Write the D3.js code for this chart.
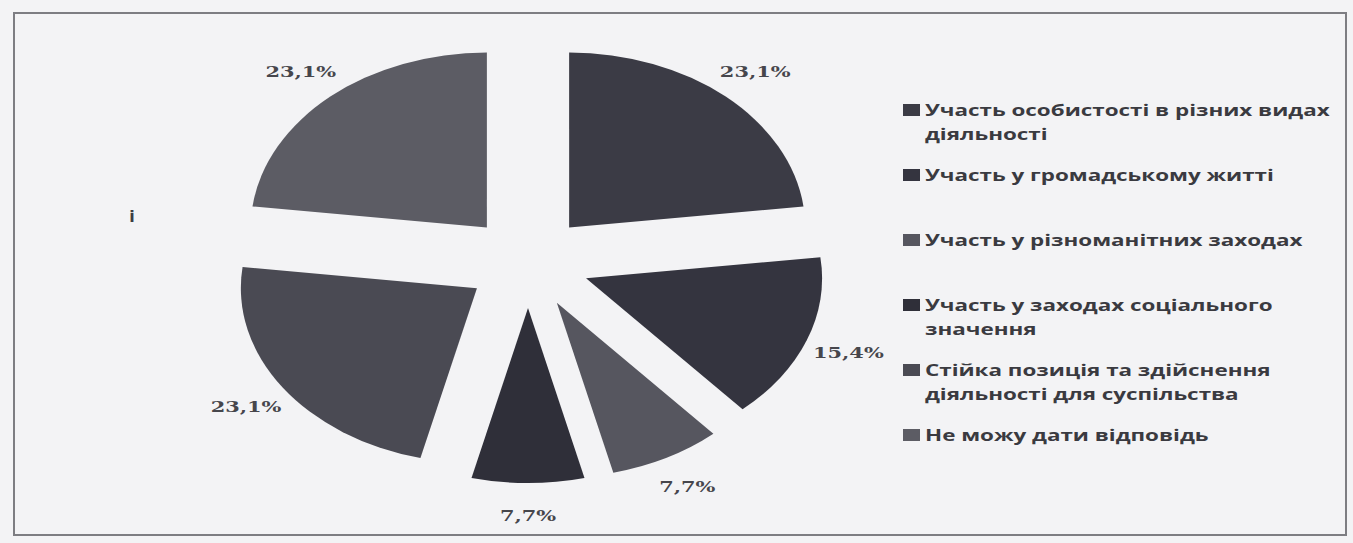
<!DOCTYPE html>
<meta charset="utf-8">
<script src="https://d3js.org/d3.v7.min.js"></script>
<style>
  body { margin: 0; background: #f3f3f5; }
</style>
<div id="chart"></div>
<script>

// data
var legendLines = [
  ["Участь особистості в різних видах", "діяльності"],
  ["Участь у громадському житті"],
  ["Участь у різноманітних заходах"],
  ["Участь у заходах соціального", "значення"],
  ["Стійка позиція та здійснення", "діяльності для суспільства"],
  ["Не можу дати відповідь"]
];
var values = [23.1, 15.4, 7.7, 7.7, 23.1, 23.1];
var colors = ["#3b3b45", "#34343f", "#56565f", "#2f2f39", "#4a4a53", "#5c5c64"];

var width = 1353, height = 543;
// the scan is stretched sideways, so the pie is drawn as a circle and widened
var stretch = 1.349;
var cx = 528, cy = 262, radius = 175, explode = 46, labelRadius = 254;

var uaFormat = d3.formatLocale({decimal: ",", thousands: " ", grouping: [3], currency: ["", ""]});
var fmt = function(v) { return uaFormat.format(".1f")(v) + "%"; };

var svg = d3.select("#chart")
  .append("svg")
    .attr("width", width)
    .attr("height", height);

// frame round the chart
svg.append("rect")
  .attr("x", 14)
  .attr("y", 13)
  .attr("width", 1332)
  .attr("height", 522)
  .attr("fill", "none")
  .attr("stroke", "#7d7d82")
  .attr("stroke-width", 2);

var pie = d3.pie().sort(null).value(function(d) { return d; });
var arcs = pie(values);
var arc = d3.arc().innerRadius(0).outerRadius(radius);

var pieG = svg.append("g")
  .attr("transform", "translate(" + cx + "," + cy + ") scale(" + stretch + ",1)");

pieG.selectAll("path.slice")
  .data(arcs)
  .enter()
  .append("path")
    .attr("class", "slice")
    .attr("d", arc)
    .attr("fill", function(d, i) { return colors[i]; })
    .attr("transform", function(d) {
      var a = (d.startAngle + d.endAngle) / 2;
      return "translate(" + (Math.sin(a) * explode) + "," + (-Math.cos(a) * explode) + ")";
    });

// percentage labels outside each slice
svg.selectAll("text.pct")
  .data(arcs)
  .enter()
  .append("text")
    .attr("class", "pct")
    .attr("transform", function(d) {
      var a = (d.startAngle + d.endAngle) / 2;
      var x = cx + Math.sin(a) * labelRadius * stretch;
      var y = cy - Math.cos(a) * labelRadius;
      return "translate(" + x + "," + y + ") scale(" + stretch + ",1)";
    })
    .attr("text-anchor", "middle")
    .attr("dominant-baseline", "central")
    .style("font-family", "'DejaVu Serif', serif")
    .style("font-weight", "bold")
    .style("font-size", "15.5px")
    .style("fill", "#46464c")
    .text(function(d) { return fmt(d.data); });

// stray mark on the scan
svg.append("text")
  .attr("x", 132)
  .attr("y", 222)
  .attr("text-anchor", "middle")
  .style("font-family", "'DejaVu Sans', sans-serif")
  .style("font-weight", "bold")
  .style("font-size", "16px")
  .style("fill", "#3c3c42")
  .text("i");

// legend
var legendY = d3.scaleLinear().domain([0, 5]).range([110, 435]);
var legend = svg.selectAll("g.legend_item")
  .data(legendLines)
  .enter()
  .append("g")
    .attr("class", "legend_item")
    .attr("transform", function(d, i) { return "translate(903," + legendY(i) + ")"; });

legend.append("rect")
  .attr("x", 0)
  .attr("y", -6)
  .attr("width", 17)
  .attr("height", 12)
  .attr("fill", function(d, i) { return colors[i]; });

legend.each(function(lines) {
  var g = d3.select(this);
  lines.forEach(function(line, j) {
    g.append("text")
      .attr("transform", "translate(22," + (j * 24) + ") scale(1.4,1)")
      .attr("dominant-baseline", "central")
      .style("font-family", "'Open Sans', sans-serif")
      .style("font-weight", "bold")
      .style("font-size", "16px")
      .style("fill", "#3a3a40")
      .text(line);
  });
});

</script>
